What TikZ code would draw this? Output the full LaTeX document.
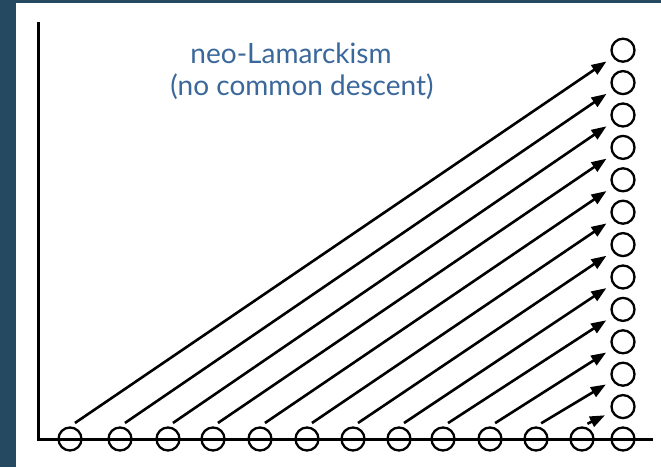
\documentclass[tikz,border=0pt]{standalone}
\usepackage{fontspec}
\setmainfont{Lato}
\usetikzlibrary{arrows.meta}
\definecolor{cornice}{RGB}{36,73,97}
\definecolor{titolo}{RGB}{59,104,155}

\begin{document}
\begin{tikzpicture}[
    x=1pt, y=-1pt,
    specie/.style={
        draw,
        circle,
        line width=2.3pt,
        minimum size=23pt,
        inner sep=0pt
    },
    freccia/.style={
        line width=2.6pt,
        -{Triangle[length=15pt,width=11pt]},
        shorten <=6pt,
        shorten >=20pt
    },
    asse/.style={
        line width=3pt
    },
    scritta/.style={
        anchor=base,
        text=titolo,
        font=\fontsize{28}{32}\selectfont
    }
]

    % Cornice e sfondo
    \fill[cornice] (0,0) rectangle (661,467);
    \fill[white] (16,3) rectangle (661,467);
    \useasboundingbox (0,0) rectangle (661,467);

    % Titolo
    \node[scritta] (titolo) at (291,63) {neo-Lamarckism};
    \node[scritta] (sottotitolo) at (302,95) {(no common descent)};

    % Assi
    \coordinate (origine) at (38,439);
    \coordinate (cima) at (38,22);
    \coordinate (fine) at (653,439);
    \draw[asse] (cima) -- (origine) -- (fine);

    % Specie sull'asse orizzontale
    \foreach \x [count=\i] in {70,120,168,213,260,307,353,399,443,490,536,582,623}
        \node[specie] (base_\i) at (\x,439) {};

    % Specie sulla colonna di destra
    \foreach \i in {1,...,12}
        \node[specie] (lato_\i) at (623,{439-32.4*\i}) {};

    % Frecce: ogni linea nasce separata
    \foreach \i in {1,...,12}{
        \pgfmathtruncatemacro{\j}{13-\i}
        \draw[freccia] (base_\i.north) -- (lato_\j.center);
    }

\end{tikzpicture}
\end{document}
